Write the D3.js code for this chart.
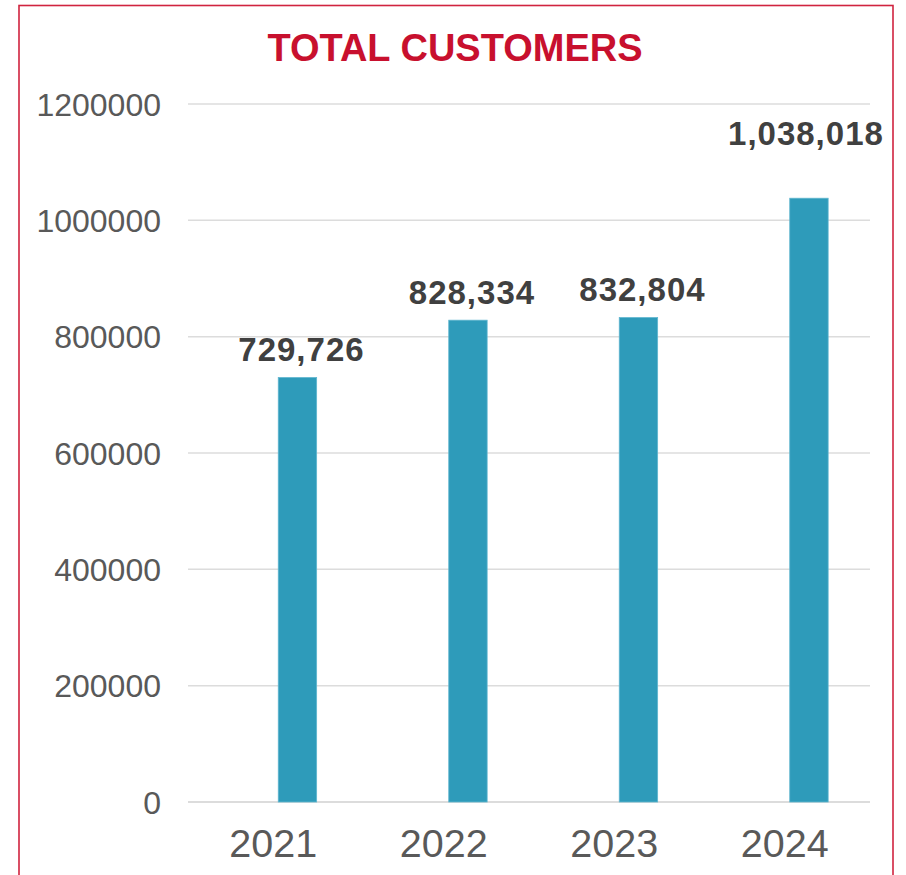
<!DOCTYPE html>
<html>
<head>
<meta charset="utf-8">
<script src="https://cdn.jsdelivr.net/npm/d3@7"></script>
<style>
  html, body { margin: 0; padding: 0; background: #fff; }
  svg { display: block; font-family: "Liberation Sans", Arial, sans-serif; }
</style>
</head>
<body>
<svg id="chart" width="906" height="875"></svg>
<script>
// Total customers per year
const years = ["2021", "2022", "2023", "2024"];
const customers = [729726, 828334, 832804, 1038018];
const yTicks = [0, 200000, 400000, 600000, 800000, 1000000, 1200000];
const title = "TOTAL CUSTOMERS";

const W = 906, H = 875;
const plot = { left: 188, right: 870, top: 104, bottom: 802 };

const svg = d3.select("#chart");

// frame
svg.append("rect")
  .attr("x", 19).attr("y", 5.5)
  .attr("width", 874).attr("height", H + 20)
  .attr("fill", "none")
  .attr("stroke", "#d0243f")
  .attr("stroke-width", 1.6);

// title
svg.append("text")
  .attr("x", 455).attr("y", 61)
  .attr("text-anchor", "middle")
  .attr("font-size", 38)
  .attr("font-weight", "bold")
  .attr("fill", "#c8102e")
  .text(title);

const x = d3.scaleBand().domain(years).range([plot.left, plot.right]).padding(0);
const y = d3.scaleLinear().domain([0, 1200000]).range([plot.bottom, plot.top]);

// horizontal gridlines
svg.append("g")
  .selectAll("line")
  .data(yTicks)
  .join("line")
  .attr("x1", plot.left).attr("x2", plot.right)
  .attr("y1", d => y(d)).attr("y2", d => y(d))
  .attr("stroke", d => d === 0 ? "#d0d0d0" : "#dcdcdc")
  .attr("stroke-width", 1.5);

// y axis labels
const yAxis = d3.axisLeft(y).tickValues(yTicks).tickSize(0).tickPadding(0).tickFormat(d3.format("d"));
const gy = svg.append("g").attr("transform", `translate(161,0)`).call(yAxis);
gy.select(".domain").remove();
gy.selectAll("text")
  .attr("font-family", "'Liberation Sans', Arial, sans-serif")
  .attr("font-size", 32)
  .attr("fill", "#595959")
  .attr("dy", "0.35em");

// x axis labels (centred on the category band)
const xAxis = d3.axisBottom(x).tickSize(0).tickPadding(0);
const gx = svg.append("g").attr("transform", `translate(0,${plot.bottom})`).call(xAxis);
gx.select(".domain").remove();
gx.selectAll("text")
  .attr("font-family", "'Liberation Sans', Arial, sans-serif")
  .attr("font-size", 39.5)
  .attr("fill", "#595959")
  .attr("dy", 0)
  .attr("y", 55);

// bars sit in the second slot of each category
const barW = 38.4;
const barX = d => x(d) + x.bandwidth() / 2 + 5;

svg.append("g")
  .selectAll("rect")
  .data(years)
  .join("rect")
  .attr("x", d => barX(d))
  .attr("y", (d, i) => y(customers[i]))
  .attr("width", barW)
  .attr("height", (d, i) => y(0) - y(customers[i]))
  .attr("fill", "#2e9bba")
  .attr("stroke", "#5fb6cf")
  .attr("stroke-width", 0.8);

// value labels; the last one is lifted clear of the top gridline area
const fmt = d3.format(",");
const last = years.length - 1;
svg.append("g")
  .selectAll("text")
  .data(years)
  .join("text")
  .attr("x", (d, i) => barX(d) + barW / 2 + (i === last ? -3 : 4))
  .attr("y", (d, i) => y(customers[i]) - (i === last ? 53 : 16.6))
  .attr("text-anchor", "middle")
  .attr("font-size", 33)
  .attr("font-weight", "bold")
  .attr("letter-spacing", 1)
  .attr("fill", "#404040")
  .text((d, i) => fmt(customers[i]));
</script>
</body>
</html>
